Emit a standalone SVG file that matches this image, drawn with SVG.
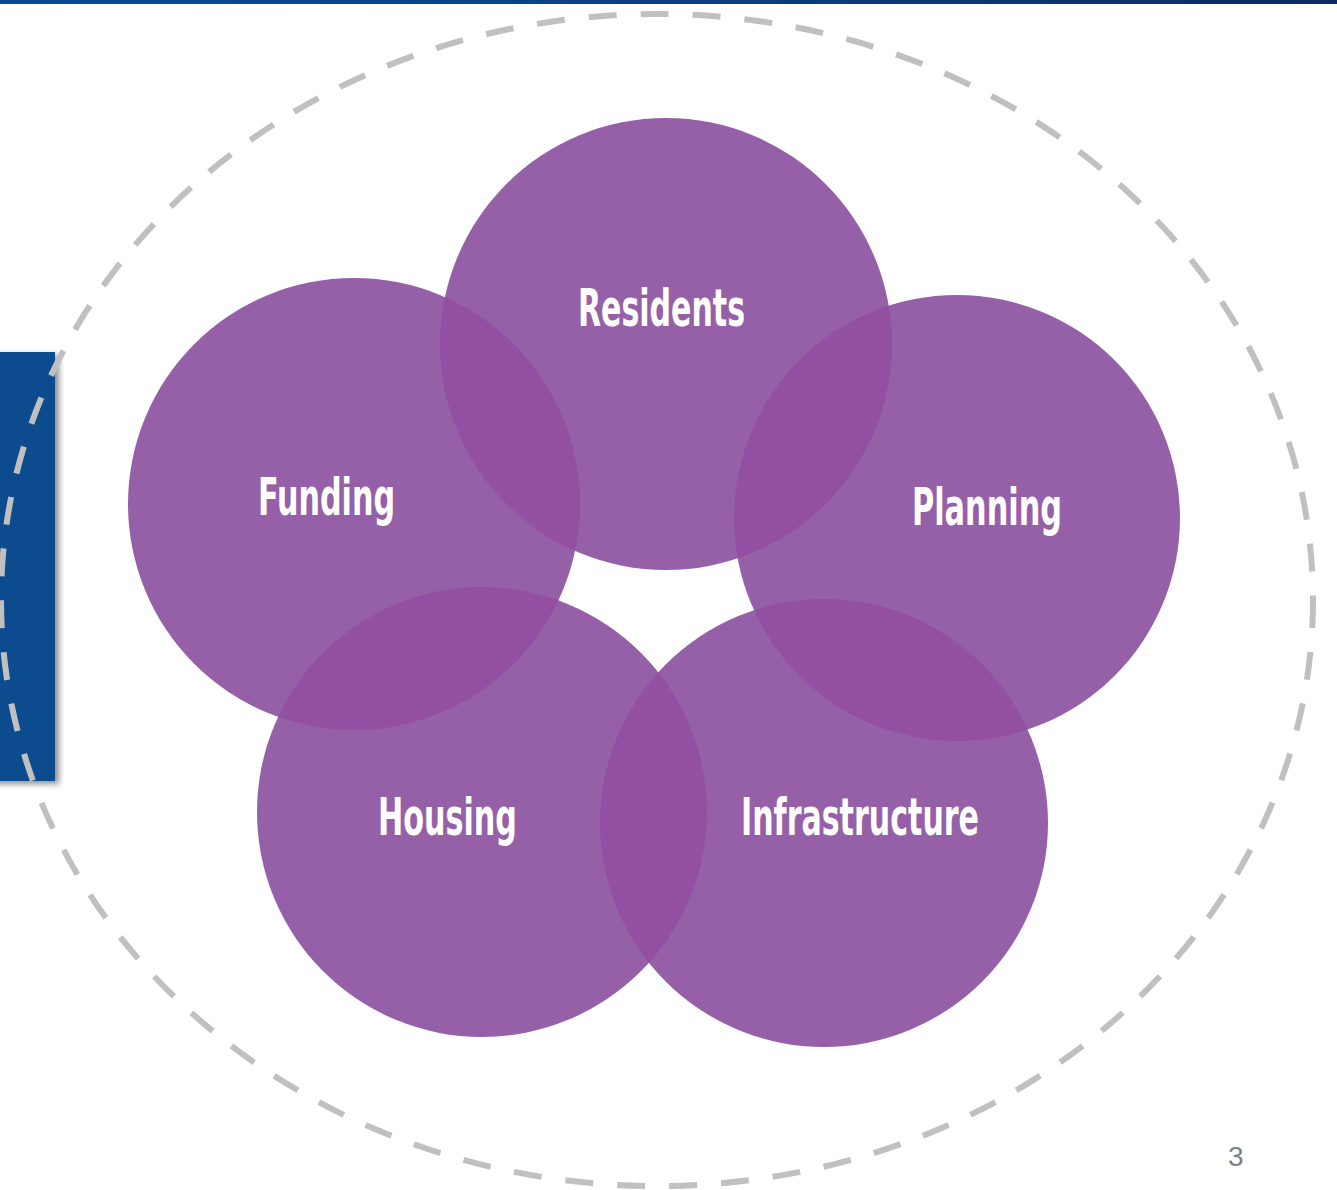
<svg xmlns="http://www.w3.org/2000/svg" width="1337" height="1190" viewBox="0 0 1337 1190">
<style>
.c{fill:#9560a8}
.o{fill:#9350a3}
.t{fill:#ffffff;font-family:"Liberation Sans Narrow","DejaVu Sans Condensed","Liberation Sans",sans-serif;font-weight:bold;font-size:52px}
.pg{fill:#808080;font-family:"Liberation Sans",Arial,sans-serif;font-size:28px}
</style>
<defs>
<linearGradient id="bar" x1="0" y1="0" x2="1" y2="0">
<stop offset="0" stop-color="#084a98"/>
<stop offset="0.5" stop-color="#0a3f86"/>
<stop offset="1" stop-color="#0e2a62"/>
</linearGradient>
<filter id="sh" x="-50%" y="-10%" width="200%" height="120%">
<feGaussianBlur in="SourceAlpha" stdDeviation="3"/>
<feOffset dx="4" dy="3" result="b"/>
<feComponentTransfer><feFuncA type="linear" slope="0.45"/></feComponentTransfer>
<feMerge><feMergeNode/><feMergeNode in="SourceGraphic"/></feMerge>
</filter>
<clipPath id="cR"><circle cx="666" cy="344" r="226"/></clipPath>
<clipPath id="cP"><circle cx="957" cy="518" r="223"/></clipPath>
<clipPath id="cI"><circle cx="824" cy="823" r="224"/></clipPath>
<clipPath id="cH"><circle cx="482" cy="812" r="225"/></clipPath>
<clipPath id="cF"><circle cx="354" cy="504" r="226"/></clipPath>
</defs>
<rect x="0" y="0" width="1337" height="4" fill="url(#bar)"/>
<rect x="-20" y="352" width="75" height="429" fill="#0a4b8f" filter="url(#sh)"/>
<ellipse cx="657" cy="600" rx="656" ry="586" fill="none" stroke="#c0c0c0" stroke-width="6" stroke-dasharray="28 24"/>
<g id="residents"><circle class="c" cx="666" cy="344" r="226"/></g>
<g id="funding"><circle class="c" cx="354" cy="504" r="226"/></g>
<g id="planning"><circle class="c" cx="957" cy="518" r="223"/></g>
<g id="housing"><circle class="c" cx="482" cy="812" r="225"/></g>
<g id="infrastructure"><circle class="c" cx="824" cy="823" r="224"/></g>
<g id="overlaps">
<circle class="o" cx="354" cy="504" r="226" clip-path="url(#cR)"/>
<circle class="o" cx="957" cy="518" r="223" clip-path="url(#cR)"/>
<circle class="o" cx="824" cy="823" r="224" clip-path="url(#cP)"/>
<circle class="o" cx="482" cy="812" r="225" clip-path="url(#cI)"/>
<circle class="o" cx="354" cy="504" r="226" clip-path="url(#cH)"/>
</g>
<g id="labels">
<text class="t" x="578" y="326" textLength="167" lengthAdjust="spacingAndGlyphs">Residents</text>
<text class="t" x="258" y="515" textLength="137" lengthAdjust="spacingAndGlyphs">Funding</text>
<text class="t" x="912" y="525" textLength="150" lengthAdjust="spacingAndGlyphs">Planning</text>
<text class="t" x="378" y="835" textLength="139" lengthAdjust="spacingAndGlyphs">Housing</text>
<text class="t" x="741" y="835" textLength="238" lengthAdjust="spacingAndGlyphs">Infrastructure</text>
</g>
<text class="pg" x="1228" y="1166">3</text>
</svg>
